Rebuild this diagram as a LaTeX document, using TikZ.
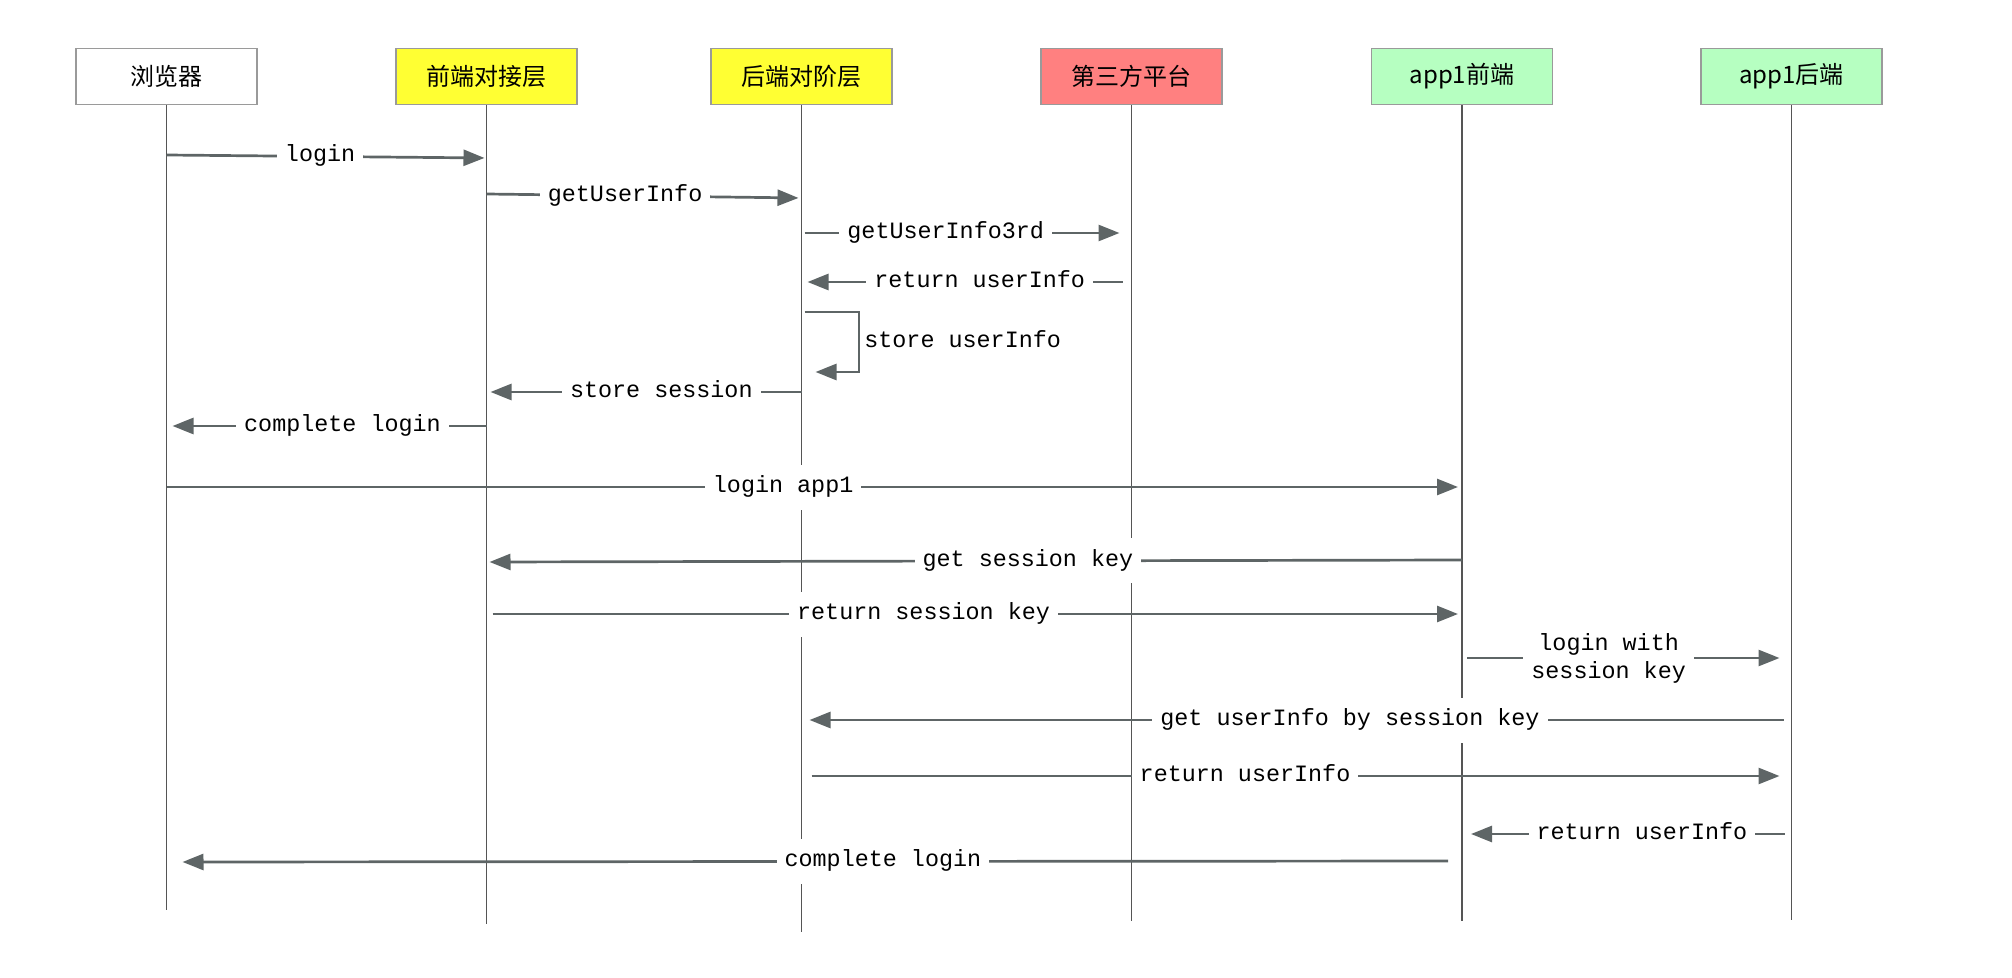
\documentclass[tikz,border=0pt]{standalone}
\usepackage{fontspec}
\setmonofont{Liberation Mono}
\newfontfamily\cjkfont{Noto Sans CJK SC}
\usepackage{tikz}
\usetikzlibrary{arrows.meta}
\usetikzlibrary{positioning}

\definecolor{boxgray}{HTML}{9A9A9A}
\definecolor{lifegray}{HTML}{555555}
\definecolor{arrowgray}{HTML}{5E6566}
\definecolor{boxyellow}{HTML}{FFFF33}
\definecolor{boxred}{HTML}{FF8080}
\definecolor{boxgreen}{HTML}{B6FFC1}

\begin{document}
\begin{tikzpicture}[x=0.5pt,y=-0.5pt,
  actor/.style={draw=boxgray,line width=0.75pt,minimum width=90.5pt,minimum height=28pt,inner sep=0pt,font=\cjkfont\fontsize{12}{14}\selectfont},
  life/.style={draw=lifegray,line width=0.85pt},
  msg/.style={draw=arrowgray,line width=1.35pt,-{Triangle[length=10.5pt,width=8pt]}},
  lbl/.style={fill=white,text=black,font=\ttfamily\fontsize{11.7}{14}\selectfont,inner xsep=4pt,inner ysep=6pt,text height=8pt,text depth=2.5pt},
  lbltwo/.style={fill=white,text=black,font=\ttfamily\fontsize{11.7}{14}\selectfont,inner xsep=4pt,inner ysep=2pt,align=center}]
\useasboundingbox (0,0) rectangle (2012,978);

\node[actor,fill=white] (browser) at (166.5,76.5) {浏览器};
\node[actor,fill=boxyellow,right=68.75pt of browser] (front) {前端对接层};
\node[actor,fill=boxyellow,right=66.25pt of front] (back) {后端对阶层};
\node[actor,fill=boxred,right=73.75pt of back] (third) {第三方平台};
\node[actor,fill=boxgreen,right=74pt of third] (appfront) {app1前端};
\node[actor,fill=boxgreen,right=73.5pt of appfront] (appback) {app1后端};

% lifelines
\foreach \n/\e in {browser/910,front/924,back/932,third/921,appfront/921,appback/920}
  \draw[life] (\n.south) -- (\n |- 0,\e);

\draw[msg,shorten >=1pt] (browser |- 0,155) -- (front |- 0,158) node[lbl,pos=.48] {login};
\draw[msg,shorten >=1.5pt] (front |- 0,194) -- (back |- 0,198) node[lbl,pos=.44] {getUserInfo};
\draw[msg,shorten <=1.5pt,shorten >=6pt] (back |- 0,233) -- (third |- 0,233) node[lbl,pos=.437] {getUserInfo3rd};
\draw[msg,shorten <=4.5pt,shorten >=3pt] (third |- 0,282) -- (back |- 0,282) node[lbl,pos=.46] {return userInfo};
\draw[msg,shorten <=1.5pt,shorten >=7pt] (back |- 0,312) -- ++(57.5,0) -- ++(0,60)
  node[lbl,fill=none,midway,right,inner xsep=2pt] {store userInfo} -- (back |- 0,372);
\draw[msg,shorten >=2pt] (back |- 0,392) -- (front |- 0,392) node[lbl,pos=.445] {store session};
\draw[msg,shorten >=3pt] (front |- 0,426) -- (browser |- 0,426) node[lbl,pos=.45] {complete login};

\draw[msg,shorten >=2pt] (browser |- 0,487) -- (appfront |- 0,487) node[lbl,pos=.476] {login app1};
\draw[msg,shorten >=1.5pt] (appfront |- 0,560) -- (front |- 0,562) node[lbl,pos=.445] {get session key};
\draw[msg,shorten <=3pt,shorten >=2pt] (front |- 0,614) -- (appfront |- 0,614) node[lbl,pos=.448] {return session key};
\draw[msg,shorten <=2.5pt,shorten >=6pt] (appfront |- 0,658) -- (appback |- 0,658) node[lbltwo,pos=.445] {login with\\session key};
\draw[msg,shorten <=4pt,shorten >=4pt] (appback |- 0,720) -- (back |- 0,720) node[lbl,pos=.446] {get userInfo by session key};
\draw[msg,shorten <=5pt,shorten >=6pt] (back |- 0,776) -- (appback |- 0,776) node[lbl,pos=.448] {return userInfo};
\draw[msg,shorten <=3.5pt,shorten >=4.5pt] (appback |- 0,834) -- (appfront |- 0,834) node[lbl,pos=.454] {return userInfo};
\draw[msg,shorten <=7pt,shorten >=8pt] (appfront |- 0,861) -- (browser |- 0,862) node[lbl,pos=.447] {complete login};
\end{tikzpicture}
\end{document}
